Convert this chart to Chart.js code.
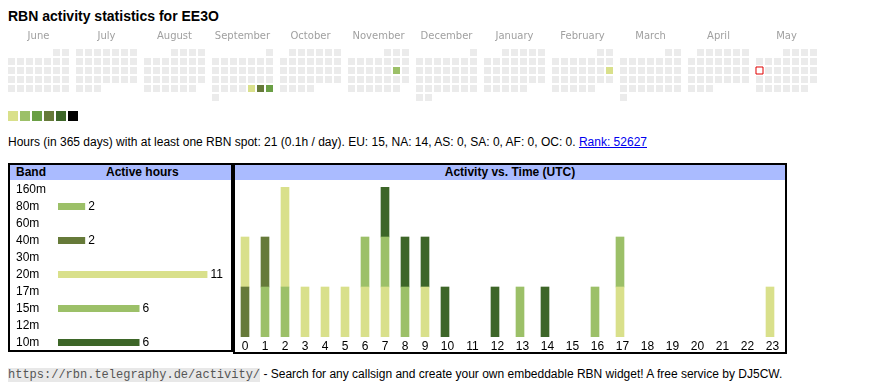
<!DOCTYPE html>
<html>
<head>
<meta charset="utf-8">
<script src="https://cdn.jsdelivr.net/npm/chart.js@4"></script>
<style>
body { margin: 0; background: #fff; color: #000; font-family: Arial, "Liberation Sans", sans-serif; }
#page { position: relative; width: 870px; height: 390px; overflow: hidden; }
.abs { position: absolute; }
h1 { position: absolute; left: 8px; top: 8px; margin: 0; font-size: 14px; line-height: 16px; font-weight: bold; }
.legend span { position: absolute; top: 111px; width: 10px; height: 10px; }
.box { position: absolute; border: 2px solid #000; box-sizing: border-box; }
.head { position: absolute; left: 0; right: 0; top: 0; height: 15px; background: #aabbff; font-weight: bold; font-size: 12px; line-height: 15px; }
canvas { position: absolute; }
</style>
</head>
<body>
<div id="page">
  <h1>RBN activity statistics for EE3O</h1>
  <canvas id="calendar" width="815" height="80" style="left:8px;top:25px"></canvas>
  <div class="legend">
    <span style="left:8px;background:#d9e08b"></span>
    <span style="left:20px;background:#9cc068"></span>
    <span style="left:32px;background:#6a9f45"></span>
    <span style="left:44px;background:#667a39"></span>
    <span style="left:56px;background:#3d6628"></span>
    <span style="left:68px;background:#000"></span>
  </div>
  <div class="abs" style="left:8px;top:135px;font-size:12px;line-height:14px;white-space:nowrap">Hours (in 365 days) with at least one RBN spot: 21 (0.1h / day). EU: 15, NA: 14, AS: 0, SA: 0, AF: 0, OC: 0. <a href="#" style="color:#0000ee">Rank: 52627</a></div>

  <div class="box" style="left:8px;top:163px;width:225px;height:189px">
    <div class="head"><span class="abs" style="left:6px">Band</span><span class="abs" style="left:96px">Active hours</span></div>
  </div>
  <div class="box" style="left:233px;top:163px;width:554px;height:191px">
    <div class="head" style="text-align:center">Activity vs. Time (UTC)</div>
  </div>
  <canvas id="bandChart" width="221" height="170" style="left:10px;top:181px"></canvas>
  <canvas id="hourChart" width="550" height="172" style="left:235px;top:180px"></canvas>

  <div class="abs" style="left:8px;top:366px;font-size:12px;line-height:16px;white-space:nowrap"><span style="font-family:'Liberation Mono',monospace;font-size:12px;background:#e8e8e8;color:#555">https://rbn.telegraphy.de/activity/</span> - Search for any callsign and create your own embeddable RBN widget! A free service by DJ5CW.</div>
</div>

<script>
// calendar
const monthNames = ['June', 'July', 'August', 'September', 'October', 'November', 'December', 'January', 'February', 'March', 'April', 'May'];
const firstYear = 2024, firstMonth = 5; // June 2024
const activeDays = ['2024-09-27', '2024-09-28', '2024-09-29', '2024-11-16', '2025-02-16'];
const activeLevels = [1, 4, 3, 2, 1];
const today = '2025-05-12';
const levelColors = ['#d9e08b', '#9cc068', '#6a9f45', '#667a39', '#3d6628', '#000000'];

// bands
const bands = ['160m', '80m', '60m', '40m', '30m', '20m', '17m', '15m', '12m', '10m'];
const bandHours = [0, 2, 0, 2, 0, 11, 0, 6, 0, 6];
const bandColors = ['#cccccc', '#9cc068', '#cccccc', '#667a39', '#cccccc', '#d9e08b', '#cccccc', '#9cc068', '#cccccc', '#3d6628'];

// hours (UTC), stacked per band
const hours = ['0', '1', '2', '3', '4', '5', '6', '7', '8', '9', '10', '11', '12', '13', '14', '15', '16', '17', '18', '19', '20', '21', '22', '23'];
const hours80m = [0, 1, 1, 0, 0, 0, 0, 0, 0, 0, 0, 0, 0, 0, 0, 0, 0, 0, 0, 0, 0, 0, 0, 0];
const hours40m = [1, 1, 0, 0, 0, 0, 0, 0, 0, 0, 0, 0, 0, 0, 0, 0, 0, 0, 0, 0, 0, 0, 0, 0];
const hours20m = [1, 0, 2, 1, 1, 1, 1, 1, 0, 1, 0, 0, 0, 0, 0, 0, 0, 1, 0, 0, 0, 0, 0, 1];
const hours15m = [0, 0, 0, 0, 0, 0, 1, 1, 1, 0, 0, 0, 0, 1, 0, 0, 1, 1, 0, 0, 0, 0, 0, 0];
const hours10m = [0, 0, 0, 0, 0, 0, 0, 1, 1, 1, 1, 0, 1, 0, 1, 0, 0, 0, 0, 0, 0, 0, 0, 0];

Chart.defaults.font.family = 'Arial, "Liberation Sans", sans-serif';
Chart.defaults.color = '#000';

const pad = n => String(n).padStart(2, '0');

// one cell per day, months side by side, weeks as rows (Mon..Sun)
const cells = [];
for (let i = 0; i < 12; i++) {
  const y = firstYear + Math.floor((firstMonth + i) / 12);
  const m = (firstMonth + i) % 12;
  const offset = (new Date(Date.UTC(y, m, 1)).getUTCDay() + 6) % 7;
  const days = new Date(Date.UTC(y, m + 1, 0)).getUTCDate();
  for (let d = 1; d <= days; d++) {
    const k = offset + d - 1;
    cells.push({ x: i * 68 + (k % 7) * 9 + 3.5, y: 24 + Math.floor(k / 7) * 9 + 3.5, day: `${y}-${pad(m + 1)}-${pad(d)}` });
  }
}
const cellColor = c => {
  const idx = activeDays.indexOf(c.day);
  if (idx >= 0) return levelColors[activeLevels[idx] - 1];
  return c.day === today ? '#ffffff' : '#ebebeb';
};

const monthLabels = {
  id: 'monthLabels',
  afterDraw(chart) {
    const { ctx, scales: { x, y } } = chart;
    ctx.save();
    ctx.font = '10px "DejaVu Sans", sans-serif';
    ctx.fillStyle = '#a0a0a0';
    ctx.textAlign = 'center';
    monthNames.forEach((name, i) => ctx.fillText(name, x.getPixelForValue(i * 68 + 30.5), y.getPixelForValue(14)));
    ctx.restore();
  }
};

new Chart(document.getElementById('calendar'), {
  type: 'scatter',
  data: {
    datasets: [{
      data: cells,
      pointStyle: 'rect',
      pointRadius: 4.95,
      pointBackgroundColor: ctx => cellColor(ctx.raw),
      pointBorderColor: ctx => ctx.raw.day === today ? '#e00000' : 'rgba(0,0,0,0)',
      pointBorderWidth: ctx => ctx.raw.day === today ? 1 : 0
    }]
  },
  options: {
    responsive: false,
    animation: false,
    events: [],
    layout: { padding: 0, autoPadding: false },
    plugins: { legend: { display: false }, tooltip: { enabled: false } },
    scales: {
      x: { type: 'linear', display: false, min: 0, max: 815 },
      y: { type: 'linear', display: false, min: 0, max: 80, reverse: true }
    }
  },
  plugins: [monthLabels]
});

const valueLabels = {
  id: 'valueLabels',
  afterDatasetsDraw(chart) {
    const { ctx } = chart;
    ctx.save();
    ctx.font = '12px Arial, "Liberation Sans", sans-serif';
    ctx.fillStyle = '#000';
    ctx.textBaseline = 'middle';
    chart.getDatasetMeta(0).data.forEach((bar, i) => {
      const v = bandHours[i];
      if (v > 0) ctx.fillText(String(v), bar.x + 3, bar.y);
    });
    ctx.restore();
  }
};

new Chart(document.getElementById('bandChart'), {
  type: 'bar',
  data: {
    labels: bands,
    datasets: [{ data: bandHours.map(v => v || null), backgroundColor: bandColors, barThickness: 7, inflateAmount: 0 }]
  },
  options: {
    indexAxis: 'y',
    responsive: false,
    animation: false,
    events: [],
    layout: { padding: { left: 6, right: 10, top: 0, bottom: 0 }, autoPadding: false },
    plugins: { legend: { display: false }, tooltip: { enabled: false } },
    scales: {
      x: { display: false, min: 0, max: 12 },
      y: {
        grid: { display: false, drawTicks: false },
        border: { display: false },
        ticks: { autoSkip: false, crossAlign: 'far', padding: 0, color: '#000', font: { size: 12 } },
        afterFit(s) { s.width = 42; s.paddingTop = 0; s.paddingBottom = 0; }
      }
    }
  },
  plugins: [valueLabels]
});

// table columns: one-digit hours are narrower than two-digit ones
const colWidth = h => hours[h].length > 1 ? 25 : 20;
const colLeft = (s, h) => {
  let x = s.left;
  for (let k = 0; k < h; k++) x += colWidth(k);
  return x;
};
const nz = arr => arr.map(v => v || null);

new Chart(document.getElementById('hourChart'), {
  type: 'bar',
  data: {
    labels: hours,
    datasets: [
      { label: '80m', data: nz(hours80m), backgroundColor: '#9cc068' },
      { label: '40m', data: nz(hours40m), backgroundColor: '#667a39' },
      { label: '20m', data: nz(hours20m), backgroundColor: '#d9e08b' },
      { label: '15m', data: nz(hours15m), backgroundColor: '#9cc068' },
      { label: '10m', data: nz(hours10m), backgroundColor: '#3d6628' }
    ]
  },
  options: {
    responsive: false,
    animation: false,
    events: [],
    barThickness: 8,
    layout: { padding: { top: 7, left: 0, right: 0, bottom: 0 }, autoPadding: false },
    plugins: { legend: { display: false }, tooltip: { enabled: false } },
    scales: {
      x: {
        stacked: true,
        grid: { display: false, drawTicks: false },
        border: { display: false },
        ticks: { autoSkip: false, maxRotation: 0, padding: 2, color: '#000', font: { size: 12 } },
        afterFit(s) { s.height = 15; },
        afterUpdate(s) {
          s.getPixelForValue = v => colLeft(s, v) + 10;
          s.getPixelForTick = i => colLeft(s, i) + colWidth(i) / 2;
        }
      },
      y: { stacked: true, display: false, min: 0, max: 3 }
    }
  }
});
</script>
</body>
</html>
